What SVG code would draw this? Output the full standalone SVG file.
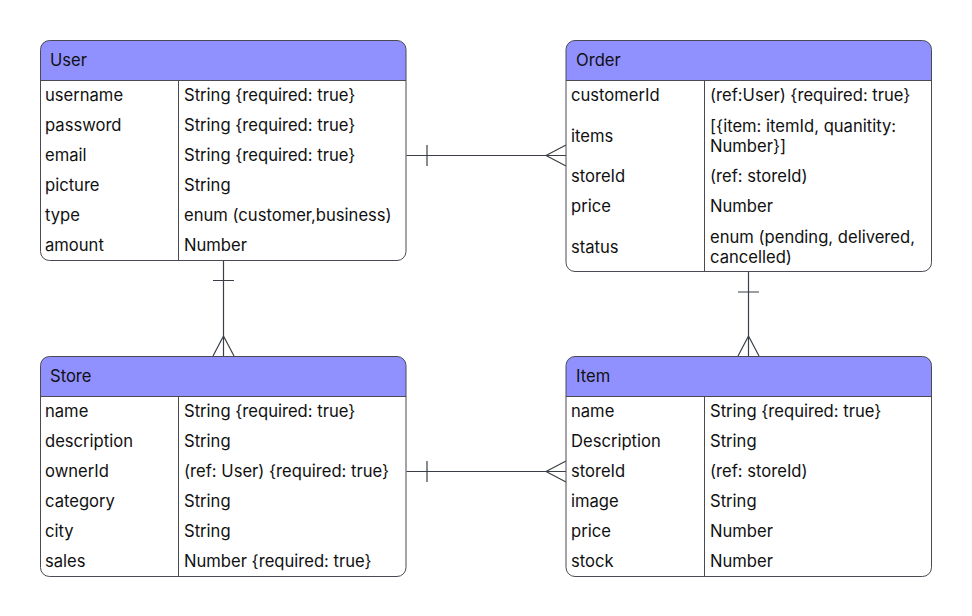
<svg xmlns="http://www.w3.org/2000/svg" width="972" height="616" viewBox="0 0 972 616">
<style>
.bg{fill:#ffffff}
.box{fill:none;stroke:#4a4a52;stroke-width:1}
.hdr{fill:#9090ff}
.ln{stroke:#4a4a52;stroke-width:1;fill:none}
.cn{stroke:#3a3f47;stroke-width:1.2;fill:none}
text{font-family:Inter,"Noto Sans","Liberation Sans",sans-serif;font-size:16.6px;fill:#111111;dominant-baseline:central}
</style>
<rect class="bg" x="0" y="0" width="972" height="616"/>
<g id="connectors">
  <path class="cn" d="M406.5 155.5 H566 M427 145 V166 M546 155.5 L566 145 M546 155.5 L566 166"/>
  <path class="cn" d="M223.5 260.5 V356 M213 280.5 H234 M223.5 336 L213 356 M223.5 336 L234 356"/>
  <path class="cn" d="M748.5 271 V356 M738 292 H759 M748.5 336 L738 356 M748.5 336 L759 356"/>
  <path class="cn" d="M406.5 471.5 H566 M427 461 V482 M546 471.5 L566 461 M546 471.5 L566 482"/>
</g>
<g id="User">
  <path class="hdr" d="M50.5 40.5 H396 Q406 40.5 406 50.5 V80.5 H40.5 V50.5 Q40.5 40.5 50.5 40.5 Z"/>
  <rect class="box" x="40.5" y="40.5" width="365.5" height="220" rx="9"/>
  <path class="ln" d="M40.5 80.5 H406 M178.5 80.5 V260.5"/>
  <text x="50" y="60">User</text>
  <text x="45" y="95">username</text><text x="184" y="95">String {required: true}</text>
  <text x="45" y="125">password</text><text x="184" y="125">String {required: true}</text>
  <text x="45" y="155">email</text><text x="184" y="155">String {required: true}</text>
  <text x="45" y="185">picture</text><text x="184" y="185">String</text>
  <text x="45" y="215">type</text><text x="184" y="215">enum (customer,business)</text>
  <text x="45" y="245">amount</text><text x="184" y="245">Number</text>
</g>
<g id="Order">
  <path class="hdr" d="M576 40.5 H921.5 Q931.5 40.5 931.5 50.5 V80.5 H566 V50.5 Q566 40.5 576 40.5 Z"/>
  <rect class="box" x="566" y="40.5" width="365.5" height="231" rx="9"/>
  <path class="ln" d="M566 80.5 H931.5 M704.5 80.5 V271.5"/>
  <text x="576" y="60">Order</text>
  <text x="571" y="95">customerId</text><text x="710" y="95">(ref:User) {required: true}</text>
  <text x="571" y="135.5">items</text><text x="710" y="125.5">[{item: itemId, quanitity:</text><text x="710" y="145.5">Number}]</text>
  <text x="571" y="176">storeId</text><text x="710" y="176">(ref: storeId)</text>
  <text x="571" y="206">price</text><text x="710" y="206">Number</text>
  <text x="571" y="246.5">status</text><text x="710" y="236.5">enum (pending, delivered,</text><text x="710" y="256.5">cancelled)</text>
</g>
<g id="Store">
  <path class="hdr" d="M50.5 356.5 H396 Q406 356.5 406 366.5 V396.5 H40.5 V366.5 Q40.5 356.5 50.5 356.5 Z"/>
  <rect class="box" x="40.5" y="356.5" width="365.5" height="220" rx="9"/>
  <path class="ln" d="M40.5 396.5 H406 M178.5 396.5 V576.5"/>
  <text x="50" y="376">Store</text>
  <text x="45" y="411">name</text><text x="184" y="411">String {required: true}</text>
  <text x="45" y="441">description</text><text x="184" y="441">String</text>
  <text x="45" y="471">ownerId</text><text x="184" y="471">(ref: User) {required: true}</text>
  <text x="45" y="501">category</text><text x="184" y="501">String</text>
  <text x="45" y="531">city</text><text x="184" y="531">String</text>
  <text x="45" y="561">sales</text><text x="184" y="561">Number {required: true}</text>
</g>
<g id="Item">
  <path class="hdr" d="M576 356.5 H921.5 Q931.5 356.5 931.5 366.5 V396.5 H566 V366.5 Q566 356.5 576 356.5 Z"/>
  <rect class="box" x="566" y="356.5" width="365.5" height="220" rx="9"/>
  <path class="ln" d="M566 396.5 H931.5 M704.5 396.5 V576.5"/>
  <text x="576" y="376">Item</text>
  <text x="571" y="411">name</text><text x="710" y="411">String {required: true}</text>
  <text x="571" y="441">Description</text><text x="710" y="441">String</text>
  <text x="571" y="471">storeId</text><text x="710" y="471">(ref: storeId)</text>
  <text x="571" y="501">image</text><text x="710" y="501">String</text>
  <text x="571" y="531">price</text><text x="710" y="531">Number</text>
  <text x="571" y="561">stock</text><text x="710" y="561">Number</text>
</g>
</svg>
